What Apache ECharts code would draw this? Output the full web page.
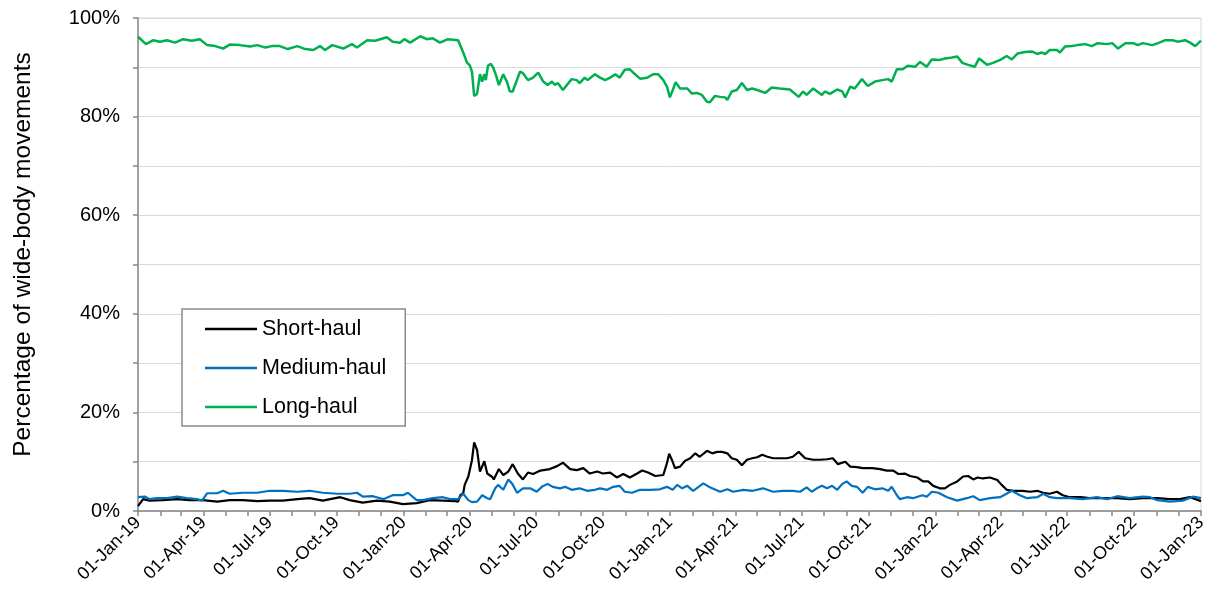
<!DOCTYPE html>
<html>
<head>
<meta charset="utf-8">
<script src="https://cdn.jsdelivr.net/npm/echarts@6/dist/echarts.min.js"></script>
<style>
  html, body { margin: 0; padding: 0; background: #fff; }
  #chart { width: 1214px; height: 599px; }
</style>
</head>
<body>
<div id="chart"></div>
<script>
// share of wide-body movements by stage length, %
var shortHaul = [
  ['2019-01-01',1.0],['2019-01-08',2.4],['2019-01-17',2.1],['2019-02-04',2.2],['2019-02-24',2.4],['2019-03-13',2.2],
  ['2019-03-31',2.2],['2019-04-20',1.9],['2019-05-07',2.2],['2019-05-25',2.2],['2019-06-14',2.0],['2019-07-01',2.1],
  ['2019-07-19',2.1],['2019-08-08',2.4],['2019-08-25',2.6],['2019-09-12',2.1],['2019-10-06',2.8],['2019-10-19',2.2],
  ['2019-11-06',1.7],['2019-11-25',2.1],['2019-12-13',1.9],['2019-12-31',1.4],['2020-01-19',1.6],['2020-02-06',2.2],
  ['2020-02-24',2.1],['2020-03-12',2.0],['2020-03-16',1.9],['2020-03-19',3.2],['2020-03-23',3.6],['2020-03-25',5.3],
  ['2020-03-30',7.0],['2020-04-04',10.3],['2020-04-07',13.9],['2020-04-11',12.4],['2020-04-15',8.0],['2020-04-21',10.1],
  ['2020-04-25',7.6],['2020-05-02',6.9],['2020-05-04',6.4],['2020-05-11',8.5],['2020-05-17',7.3],['2020-05-24',8.0],
  ['2020-05-30',9.5],['2020-06-06',7.6],['2020-06-13',6.4],['2020-06-20',7.8],['2020-06-27',7.5],['2020-07-07',8.2],
  ['2020-07-20',8.5],['2020-07-30',9.1],['2020-08-07',9.8],['2020-08-17',8.5],['2020-08-26',8.3],['2020-09-04',8.7],
  ['2020-09-13',7.6],['2020-09-23',8.0],['2020-10-01',7.6],['2020-10-11',7.8],['2020-10-20',6.8],['2020-10-29',7.5],
  ['2020-11-07',6.8],['2020-11-17',7.6],['2020-11-24',8.2],['2020-12-02',7.8],['2020-12-12',7.1],['2020-12-23',7.3],
  ['2020-12-28',9.7],['2020-12-31',11.6],['2021-01-04',10.3],['2021-01-08',8.7],['2021-01-15',9.0],['2021-01-22',10.2],
  ['2021-01-29',10.7],['2021-02-05',11.7],['2021-02-11',11.0],['2021-02-21',12.2],['2021-02-28',11.7],['2021-03-07',12.0],
  ['2021-03-14',12.0],['2021-03-21',11.7],['2021-03-27',10.7],['2021-04-03',10.4],['2021-04-10',9.3],['2021-04-17',10.4],
  ['2021-04-24',10.7],['2021-05-01',10.9],['2021-05-08',11.4],['2021-05-15',11.0],['2021-05-23',10.7],['2021-06-01',10.7],
  ['2021-06-11',10.7],['2021-06-19',11.0],['2021-06-27',12.0],['2021-07-06',10.7],['2021-07-17',10.4],['2021-07-26',10.4],
  ['2021-08-05',10.5],['2021-08-13',10.7],['2021-08-20',9.5],['2021-08-30',10.0],['2021-09-06',9.0],['2021-09-15',8.9],
  ['2021-09-23',8.7],['2021-10-06',8.7],['2021-10-17',8.5],['2021-10-26',8.2],['2021-11-04',8.2],['2021-11-11',7.5],
  ['2021-11-20',7.6],['2021-11-27',7.1],['2021-12-07',6.8],['2021-12-15',6.0],['2021-12-22',6.0],['2021-12-29',5.1],
  ['2022-01-07',4.6],['2022-01-14',4.6],['2022-01-21',5.3],['2022-01-31',6.0],['2022-02-08',7.0],['2022-02-15',7.1],
  ['2022-02-22',6.4],['2022-02-28',6.8],['2022-03-07',6.6],['2022-03-17',6.8],['2022-03-27',6.3],['2022-04-02',5.3],
  ['2022-04-09',4.3],['2022-04-18',4.1],['2022-05-01',4.1],['2022-05-11',3.9],['2022-05-21',4.1],['2022-05-29',3.7],
  ['2022-06-07',3.5],['2022-06-17',3.9],['2022-06-25',3.2],['2022-07-05',2.8],['2022-07-19',2.8],['2022-08-01',2.6],
  ['2022-08-19',2.6],['2022-09-08',2.6],['2022-09-25',2.4],['2022-10-13',2.6],['2022-11-02',2.6],['2022-11-19',2.4],
  ['2022-12-03',2.4],['2022-12-17',2.8],['2023-01-01',2.0]
];
var mediumHaul = [
  ['2019-01-01',2.8],['2019-01-11',2.9],['2019-01-17',2.4],['2019-01-27',2.6],['2019-02-10',2.6],['2019-02-24',2.9],
  ['2019-03-09',2.6],['2019-03-23',2.4],['2019-03-30',2.1],['2019-04-06',3.6],['2019-04-20',3.6],['2019-04-28',4.1],
  ['2019-05-07',3.5],['2019-05-25',3.7],['2019-06-14',3.7],['2019-07-01',4.1],['2019-07-19',4.1],['2019-08-08',3.9],
  ['2019-08-25',4.1],['2019-09-12',3.7],['2019-10-02',3.5],['2019-10-19',3.5],['2019-10-29',3.7],['2019-11-06',2.9],
  ['2019-11-20',3.0],['2019-12-04',2.4],['2019-12-17',3.2],['2019-12-31',3.2],['2020-01-07',3.7],['2020-01-19',2.2],
  ['2020-01-28',2.2],['2020-02-10',2.6],['2020-02-24',2.8],['2020-03-05',2.4],['2020-03-16',2.4],['2020-03-23',3.5],
  ['2020-03-30',2.2],['2020-04-04',1.8],['2020-04-11',1.9],['2020-04-18',3.2],['2020-04-25',2.6],['2020-04-29',2.4],
  ['2020-05-06',4.6],['2020-05-10',5.3],['2020-05-17',4.3],['2020-05-24',6.4],['2020-05-29',5.6],['2020-06-05',3.7],
  ['2020-06-13',4.6],['2020-06-23',4.6],['2020-07-02',3.9],['2020-07-09',4.9],['2020-07-17',5.5],['2020-07-24',4.9],
  ['2020-08-03',4.6],['2020-08-10',4.9],['2020-08-19',4.3],['2020-08-30',4.6],['2020-09-09',4.1],['2020-09-20',4.3],
  ['2020-09-27',4.6],['2020-10-07',4.3],['2020-10-15',4.9],['2020-10-24',5.1],['2020-10-31',3.9],['2020-11-10',3.7],
  ['2020-11-21',4.3],['2020-12-05',4.3],['2020-12-18',4.4],['2020-12-28',4.9],['2021-01-05',4.3],['2021-01-11',5.3],
  ['2021-01-18',4.6],['2021-01-25',5.1],['2021-02-02',4.1],['2021-02-16',5.6],['2021-02-25',4.8],['2021-03-11',3.9],
  ['2021-03-21',4.4],['2021-03-29',3.9],['2021-04-12',4.3],['2021-04-25',4.1],['2021-05-09',4.6],['2021-05-23',3.9],
  ['2021-06-05',4.1],['2021-06-19',4.1],['2021-06-29',3.9],['2021-07-08',4.8],['2021-07-15',3.9],['2021-07-22',4.6],
  ['2021-07-29',5.1],['2021-08-05',4.6],['2021-08-12',5.1],['2021-08-19',4.3],['2021-08-26',5.5],['2021-09-01',6.0],
  ['2021-09-08',5.1],['2021-09-15',4.9],['2021-09-23',3.7],['2021-09-30',4.9],['2021-10-10',4.4],['2021-10-20',4.6],
  ['2021-10-28',4.1],['2021-11-02',4.9],['2021-11-09',3.2],['2021-11-13',2.4],['2021-11-23',2.8],['2021-12-01',2.6],
  ['2021-12-14',3.2],['2021-12-20',2.9],['2021-12-27',3.9],['2022-01-05',3.7],['2022-01-17',2.8],['2022-01-31',2.1],
  ['2022-02-13',2.6],['2022-02-22',3.0],['2022-03-03',2.2],['2022-03-17',2.6],['2022-03-31',2.8],['2022-04-16',4.1],
  ['2022-04-27',3.2],['2022-05-07',2.6],['2022-05-21',2.8],['2022-05-29',3.5],['2022-06-07',2.8],['2022-06-17',2.6],
  ['2022-07-05',2.6],['2022-07-23',2.4],['2022-08-11',2.8],['2022-08-25',2.4],['2022-09-08',3.0],['2022-09-25',2.6],
  ['2022-10-13',2.9],['2022-10-23',2.8],['2022-11-02',2.2],['2022-11-19',1.9],['2022-12-07',2.1],['2022-12-21',2.9],
  ['2023-01-01',2.6]
];
var longHaul = [
  ['2019-01-01',96.2],['2019-01-12',94.7],['2019-01-22',95.5],['2019-01-31',95.2],['2019-02-10',95.5],['2019-02-21',95.0],
  ['2019-03-04',95.7],['2019-03-16',95.4],['2019-03-27',95.7],['2019-04-06',94.5],['2019-04-17',94.3],['2019-04-28',93.8],
  ['2019-05-07',94.6],['2019-05-21',94.5],['2019-06-04',94.2],['2019-06-14',94.5],['2019-06-25',94.0],['2019-07-04',94.3],
  ['2019-07-15',94.3],['2019-07-26',93.7],['2019-08-08',94.3],['2019-08-19',93.7],['2019-08-30',93.5],['2019-09-08',94.3],
  ['2019-09-15',93.5],['2019-09-25',94.5],['2019-10-10',93.8],['2019-10-22',94.7],['2019-10-29',94.0],['2019-11-12',95.5],
  ['2019-11-23',95.4],['2019-12-09',96.1],['2019-12-17',95.2],['2019-12-27',95.0],['2020-01-02',95.7],['2020-01-10',95.0],
  ['2020-01-24',96.3],['2020-02-02',95.7],['2020-02-10',95.9],['2020-02-20',95.0],['2020-03-02',95.7],['2020-03-16',95.5],
  ['2020-03-23',93.0],['2020-03-28',91.0],['2020-04-01',90.4],['2020-04-04',89.1],['2020-04-07',84.2],['2020-04-11',84.6],
  ['2020-04-15',88.6],['2020-04-18',87.1],['2020-04-21',88.6],['2020-04-23',87.4],['2020-04-26',90.3],['2020-04-30',90.7],
  ['2020-05-03',90.0],['2020-05-07',88.4],['2020-05-11',86.4],['2020-05-17',88.6],['2020-05-22',87.1],['2020-05-26',85.1],
  ['2020-05-30',85.1],['2020-06-09',89.1],['2020-06-13',88.8],['2020-06-20',87.4],['2020-06-27',87.9],['2020-07-04',88.9],
  ['2020-07-11',87.1],['2020-07-17',86.4],['2020-07-23',87.1],['2020-07-27',86.4],['2020-07-31',86.8],['2020-08-07',85.4],
  ['2020-08-19',87.6],['2020-08-26',87.4],['2020-08-30',86.8],['2020-09-06',87.9],['2020-09-10',87.4],['2020-09-20',88.6],
  ['2020-09-27',87.9],['2020-10-04',87.4],['2020-10-11',87.9],['2020-10-18',88.6],['2020-10-24',87.9],['2020-10-31',89.5],
  ['2020-11-07',89.6],['2020-11-11',89.0],['2020-11-21',87.7],['2020-12-01',87.9],['2020-12-09',88.6],['2020-12-16',88.6],
  ['2020-12-23',87.4],['2020-12-28',86.1],['2021-01-01',83.9],['2021-01-05',85.4],['2021-01-09',87.0],['2021-01-15',85.7],
  ['2021-01-25',85.7],['2021-01-31',84.7],['2021-02-07',84.8],['2021-02-14',84.4],['2021-02-21',83.0],['2021-02-25',82.9],
  ['2021-03-04',84.2],['2021-03-11',84.0],['2021-03-18',83.9],['2021-03-21',83.4],['2021-03-27',85.1],['2021-04-03',85.4],
  ['2021-04-10',86.8],['2021-04-17',85.4],['2021-04-24',85.7],['2021-05-01',85.4],['2021-05-12',84.8],['2021-05-21',85.9],
  ['2021-06-01',85.7],['2021-06-15',85.5],['2021-06-27',84.0],['2021-07-03',85.1],['2021-07-08',84.4],['2021-07-17',85.7],
  ['2021-07-29',84.4],['2021-08-02',85.1],['2021-08-09',84.6],['2021-08-19',85.5],['2021-08-26',85.1],['2021-08-30',83.9],
  ['2021-09-06',86.1],['2021-09-12',85.7],['2021-09-22',87.6],['2021-09-30',86.2],['2021-10-10',87.1],['2021-10-20',87.4],
  ['2021-10-28',87.6],['2021-11-02',87.1],['2021-11-09',89.6],['2021-11-17',89.6],['2021-11-24',90.3],['2021-12-04',90.1],
  ['2021-12-11',91.1],['2021-12-20',90.1],['2021-12-27',91.6],['2022-01-07',91.5],['2022-01-14',91.8],['2022-01-24',92.0],
  ['2022-01-31',92.2],['2022-02-07',90.9],['2022-02-15',90.5],['2022-02-24',90.1],['2022-03-02',91.8],['2022-03-13',90.5],
  ['2022-03-21',90.9],['2022-03-31',91.5],['2022-04-09',92.3],['2022-04-16',91.6],['2022-04-24',92.8],['2022-05-04',93.1],
  ['2022-05-14',93.2],['2022-05-21',92.7],['2022-05-27',93.0],['2022-06-01',92.7],['2022-06-07',93.5],['2022-06-17',93.5],
  ['2022-06-21',93.0],['2022-06-28',94.2],['2022-07-08',94.3],['2022-07-15',94.5],['2022-07-26',94.7],['2022-08-04',94.3],
  ['2022-08-12',94.9],['2022-08-25',94.7],['2022-09-01',94.9],['2022-09-09',93.8],['2022-09-19',94.9],['2022-09-30',94.9],
  ['2022-10-06',94.5],['2022-10-13',94.9],['2022-10-26',94.5],['2022-11-03',94.9],['2022-11-13',95.5],['2022-11-23',95.5],
  ['2022-11-30',95.2],['2022-12-10',95.5],['2022-12-17',95.0],['2022-12-24',94.3],['2023-01-01',95.4]
];
// labelled quarter dates on the x axis
var quarterLabels = [
  '2019-01-01', '2019-04-01', '2019-07-01', '2019-10-01',
  '2020-01-01', '2020-04-01', '2020-07-01', '2020-10-01',
  '2021-01-01', '2021-04-01', '2021-07-01', '2021-10-01',
  '2022-01-01', '2022-04-01', '2022-07-01', '2022-10-01',
  '2023-01-01'
];
var monthNames = ['Jan', 'Feb', 'Mar', 'Apr', 'May', 'Jun', 'Jul', 'Aug', 'Sep', 'Oct', 'Nov', 'Dec'];

function toTime(s) {
  var p = s.split('-');
  return Date.UTC(+p[0], +p[1] - 1, +p[2]);
}
function toPoints(list) {
  return list.map(function (p) { return [toTime(p[0]), p[1]]; });
}

// a small tick at the start of every month
var monthTicks = [];
for (var y = 2019; y <= 2022; y++) {
  for (var m = 0; m < 12; m++) monthTicks.push(Date.UTC(y, m, 1));
}
monthTicks.push(Date.UTC(2023, 0, 1));

var chart = echarts.init(document.getElementById('chart'));
var font = 'Liberation Sans, Arial, sans-serif';

var option = {
  animation: false,
  textStyle: { fontFamily: font },
  grid: {
    left: 138, right: 13, top: 18, bottom: 88,
    show: true, borderColor: '#d9d9d9', borderWidth: 1
  },
  legend: {
    orient: 'vertical',
    left: 182, top: 309,
    padding: [9, 19, 8, 23],
    icon: 'rect',
    itemWidth: 52, itemHeight: 2.5, itemGap: 17,
    borderColor: '#8c8c8c', borderWidth: 1.5,
    backgroundColor: '#fff',
    textStyle: { fontSize: 21.5, color: '#000', fontFamily: font, height: 22, lineHeight: 22 },
    data: ['Short-haul', 'Medium-haul', 'Long-haul']
  },
  xAxis: {
    type: 'value',
    min: toTime('2019-01-01'),
    max: toTime('2023-01-01'),
    axisLine: { lineStyle: { color: '#888', width: 1.5 } },
    axisTick: { show: true, length: 5, customValues: monthTicks, lineStyle: { color: '#888', width: 1.5 } },
    splitLine: { show: false },
    axisLabel: {
      customValues: quarterLabels.map(toTime),
      rotate: 45,
      margin: 9,
      fontSize: 18,
      color: '#000',
      fontFamily: font,
      formatter: function (val) {
        var d = new Date(val);
        return '01-' + monthNames[d.getUTCMonth()] + '-' + String(d.getUTCFullYear()).slice(2);
      }
    }
  },
  yAxis: {
    type: 'value',
    min: 0, max: 100, interval: 10,
    name: 'Percentage of wide-body movements',
    nameLocation: 'middle',
    nameRotate: 90,
    nameGap: 102,
    nameTextStyle: { fontSize: 24.5, color: '#000', fontFamily: font, padding: [0, 0, 0, 20] },
    axisLine: { show: true, lineStyle: { color: '#888', width: 1.5 } },
    axisTick: { show: true, length: 5, lineStyle: { color: '#888', width: 1.5 } },
    splitLine: { lineStyle: { color: '#d9d9d9', width: 1 } },
    axisLabel: {
      fontSize: 20, color: '#000', margin: 18, fontFamily: font,
      formatter: function (v) { return v % 20 === 0 ? v + '%' : ''; }
    }
  },
  series: [
    { name: 'Short-haul', type: 'line', data: toPoints(shortHaul), symbol: 'none',
      lineStyle: { color: '#000000', width: 2.2 }, itemStyle: { color: '#000000' } },
    { name: 'Medium-haul', type: 'line', data: toPoints(mediumHaul), symbol: 'none',
      lineStyle: { color: '#0070C0', width: 2.2 }, itemStyle: { color: '#0070C0' } },
    { name: 'Long-haul', type: 'line', data: toPoints(longHaul), symbol: 'none',
      lineStyle: { color: '#00B050', width: 2.5 }, itemStyle: { color: '#00B050' } }
  ]
};
chart.setOption(option);
</script>
</body>
</html>
